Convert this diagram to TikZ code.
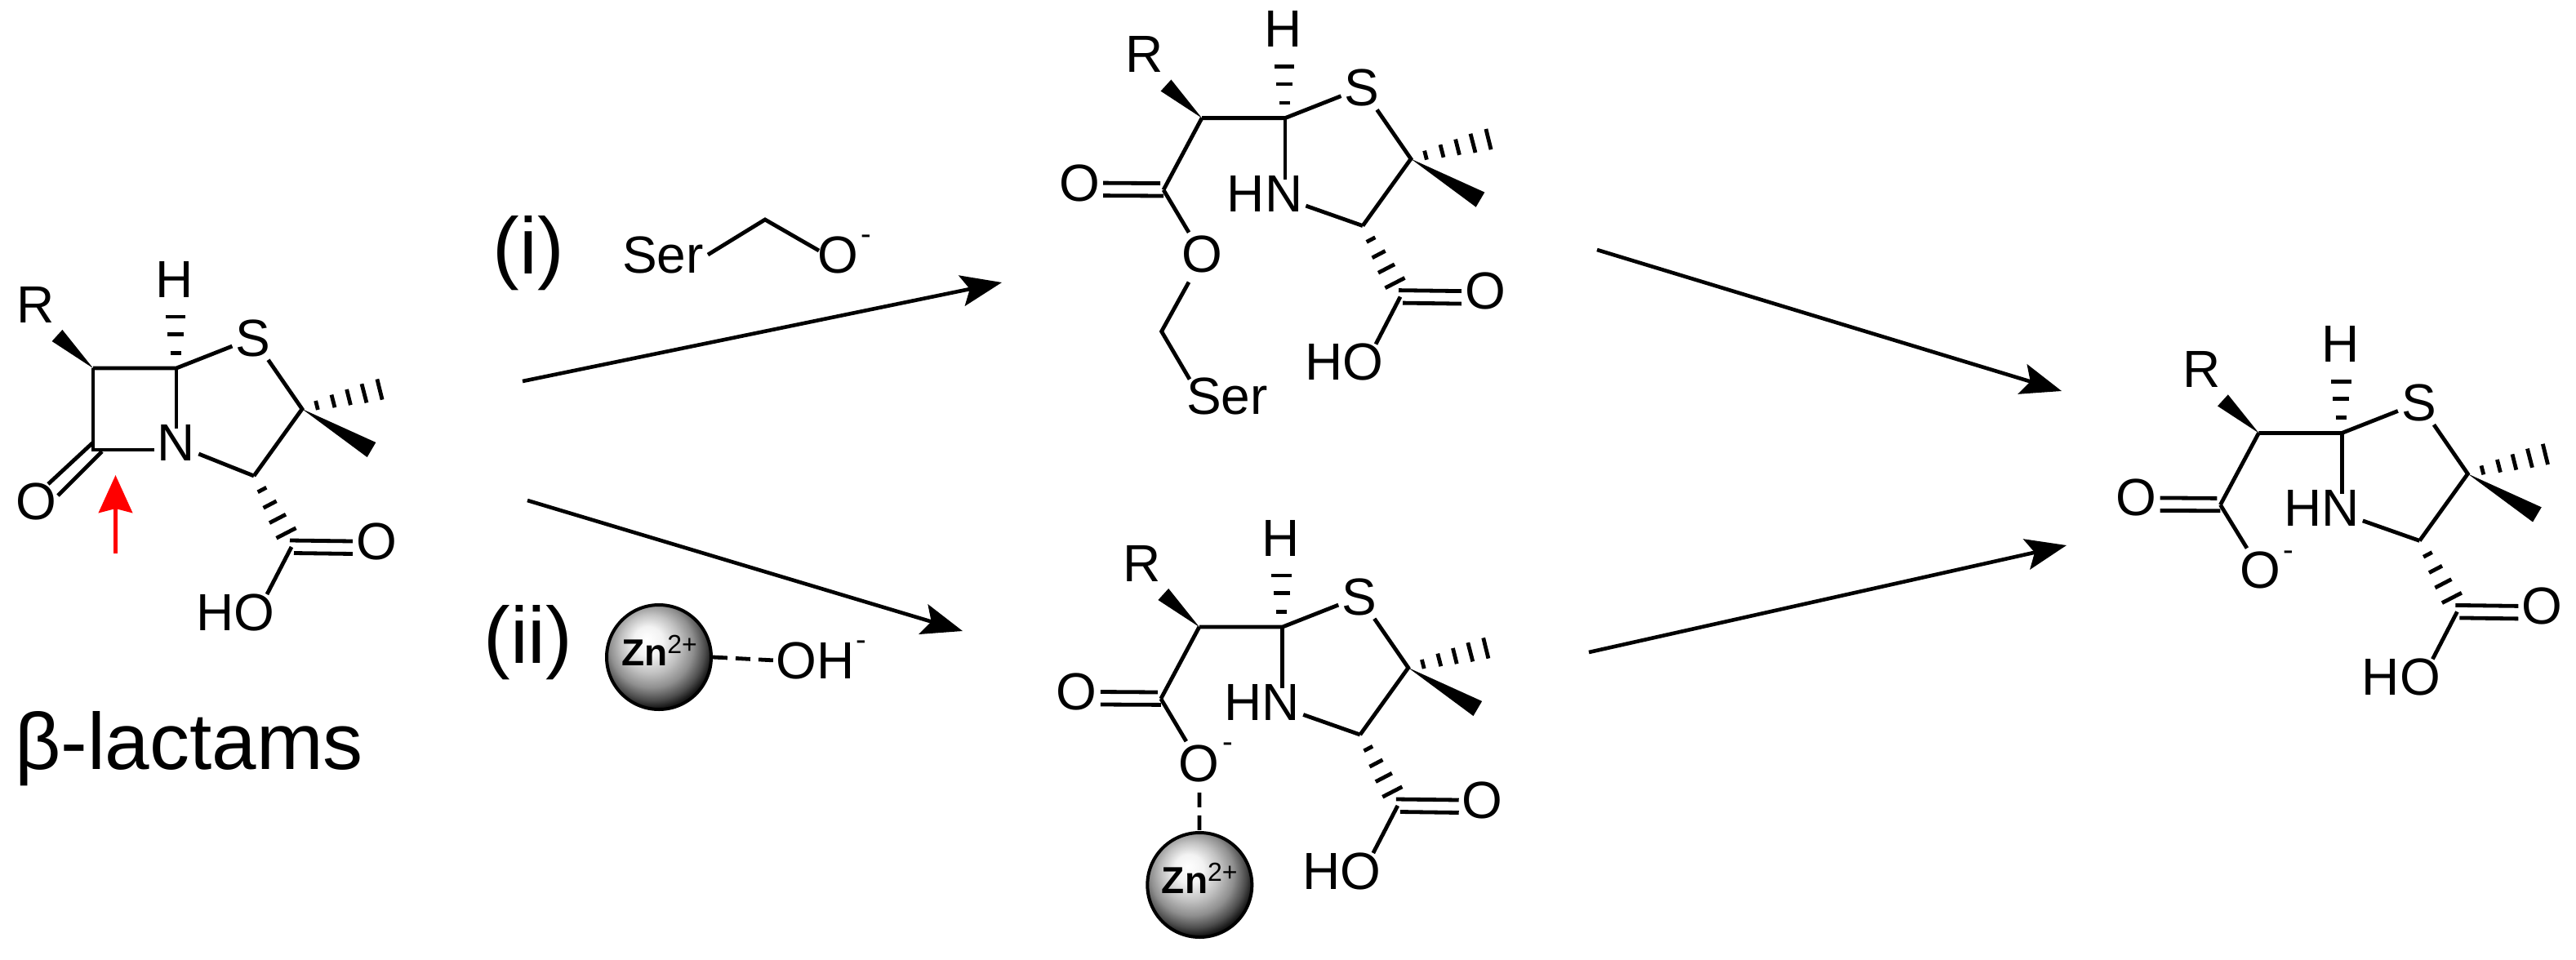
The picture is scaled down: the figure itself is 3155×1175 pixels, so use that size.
\documentclass[tikz,border=0pt]{standalone}
\usepackage{fontspec}
\setmainfont{Liberation Sans}
\usetikzlibrary{arrows.meta,calc}
\pgfdeclareradialshading{znball}{\pgfpoint{-6bp}{9bp}}{%
  color(0bp)=(white); color(7bp)=(white!95!black); color(14bp)=(white!76!black);
  color(20bp)=(white!56!black); color(25bp)=(white!30!black); color(28bp)=(white!10!black);
  color(31bp)=(black); color(50bp)=(black)}
\tikzset{
  atom/.style={font=\fontsize{64}{72}\selectfont, inner sep=4pt},
  charge/.style={font=\fontsize{38}{40}\selectfont, inner sep=0pt},
  roman/.style={font=\fontsize{98}{110}\selectfont, inner sep=0pt},
  title/.style={font=\fontsize{98}{110}\selectfont, inner sep=0pt},
  bond/.style={line width=4.8pt, line cap=butt, line join=miter},
  hashbar/.style={line width=4.8pt},
  wedge/.style={fill=black, draw=none},
  rxn/.style={line width=4.6pt, -{Stealth[length=50pt,width=38pt,inset=10pt]}},
  redarrow/.style={line width=5.5pt, red, -{Stealth[length=46pt,width=41pt,inset=5pt]}},
  zn/.style={circle, draw=black, line width=4pt, minimum size=128pt, inner sep=0pt, shading=znball},
  znlabel/.style={font=\fontsize{46}{50}\selectfont\bfseries, inner sep=0pt},
  coord/.style={line width=4.8pt, dash pattern=on 18pt off 10pt},
}
\newcommand{\zntext}{Zn\raisebox{15pt}{\fontsize{32}{34}\selectfont\mdseries 2+}}
% the part shared by all four molecules
\newcommand{\thiacore}{%
  \coordinate (ch) at (0,0);
  \coordinate (cr) at (-102,0);
  \coordinate (c5) at (154,50);
  \coordinate (c4) at (95,132);
  \coordinate (cc) at (141,219);
  \coordinate (cd1) at (139,211);
  \coordinate (cd2) at (144,226.5);
  \coordinate (hob) at (111,277);
  \coordinate (rw) at (-146,-40);
  \coordinate (mw) at (239,100);
  \node[atom] (R) at (-172,-78) {R};
  \node[atom] (H) at (-2,-109) {H};
  \node[atom] (S) at (94,-37) {S};
  \node[atom] (O2) at (245,212) {O};
  \node[atom] (HO) at (72.5,299) {HO};
  \draw[bond] (cr) -- (ch) -- (S);
  \draw[bond] (S) -- (c5) -- (c4);
  \draw[bond] (cd1) -- (O2.west);
  \draw[bond] (cd2) -- ([yshift=-15.5pt]O2.west);
  \draw[bond] (cc) -- (hob);
  \fill[wedge] (cr) -- ($(rw)!9.5pt!90:(cr)$) -- ($(rw)!9.5pt!-90:(cr)$) -- cycle;
  \fill[wedge] (c5) -- ($(mw)!10.5pt!90:(c5)$) -- ($(mw)!10.5pt!-90:(c5)$) -- cycle;
  \draw[hashbar] (-13.4,-63) -- (11.4,-63) (-11,-41.6) -- (9,-41.6) (-7.5,-18.6) -- (5.5,-18.6);
  \draw[hashbar] (170.6,40) -- (173.4,51) (190,32.6) -- (194,48.2) (208.6,26) -- (213.4,45.2)
                 (227,19.2) -- (233,42.4) (245.9,13.4) -- (252.1,38.6);
  \draw[hashbar] (99.7,151.8) -- (110.3,146.2) (106.6,171.2) -- (122.6,162.8)
                 (114,189.6) -- (134,179.2) (122.5,208.2) -- (146.5,195.8);
}
% open form: secondary amine and a carboxyl-derived carbon
\newcommand{\openform}{%
  \coordinate (nb) at (0,75);
  \coordinate (cx) at (-149,88);
  \coordinate (cx1) at (-153,80);
  \coordinate (cx2) at (-149,95.4);
  \node[atom] (HN) at (-25,92.5) {HN};
  \node[atom] (O1) at (-252,79.5) {O};
  \draw[bond] (ch) -- (nb);
  \draw[bond] ([yshift=-15pt]HN.east) -- (c4);
  \draw[bond] (cr) -- (cx);
  \draw[bond] (O1.east) -- (cx1);
  \draw[bond] ([yshift=-15.5pt]O1.east) -- (cx2);
}
\begin{document}
\begin{tikzpicture}[x=1pt,y=-1pt]
\useasboundingbox (0,0) rectangle (3155,1175);

% beta-lactam
\begin{scope}[shift={(216,451)},name prefix=a-]
  \thiacore
  \coordinate (nb) at (0,74);
  \coordinate (cb) at (-102,100);
  \coordinate (cb1) at (-102,91);
  \coordinate (cb2) at (-91,102);
  \coordinate (ob1) at (-157,142);
  \coordinate (ob2) at (-145,156);
  \node[atom] (N) at (0,91) {N};
  \node[atom] (O1) at (-172,163) {O};
  \draw[bond] (ch) -- (nb);
  \draw[bond] (cr) -- (cb) -- ([yshift=-9pt]N.west);
  \draw[bond] ([yshift=-14pt]N.east) -- (c4);
  \draw[bond] (cb1) -- (ob1);
  \draw[bond] (cb2) -- (ob2);
  \coordinate (rb) at (-74.5,227);
  \coordinate (rt) at (-74.5,131);
  \draw[redarrow] (rb) -- (rt);
\end{scope}
\node[title] (lactam) at (231.5,917) {β-lactams};

% serine ester
\begin{scope}[shift={(1574,144.6)},name prefix=b-]
  \thiacore
  \openform
  \node[atom] (Ox) at (-102,167) {O};
  \node[atom] (Ser) at (-71,341) {Ser};
  \coordinate (ox1) at (-118,201);
  \coordinate (ch2) at (-151.4,261.4);
  \coordinate (ser1) at (-117,320);
  \draw[bond] (cx) -- (Ox);
  \draw[bond] (ox1) -- (ch2) -- (ser1);
\end{scope}

% zinc complex
\begin{scope}[shift={(1570.8,768)},name prefix=c-]
  \thiacore
  \openform
  \node[atom] (Ox) at (-102,167) {O};
  \node[charge] (Oxm) at (-67,148) {-};
  \node[zn] (ball) at (-101.5,316) {};
  \node[znlabel] (balltext) at (-101.5,308) {\zntext};
  \draw[bond] (cx) -- (Ox);
  \draw[coord,shorten <=9pt] (Ox) -- (ball);
\end{scope}

% product
\begin{scope}[shift={(2868.4,530.4)},name prefix=d-]
  \thiacore
  \openform
  \node[atom] (Ox) at (-100,168) {O};
  \node[charge] (Oxm) at (-66,150) {-};
  \draw[bond] (cx) -- (Ox);
\end{scope}

% reagents
\node[roman] (ri) at (647.5,310) {(i)};
\node[atom] (ser) at (812,312.5) {Ser};
\coordinate (ser1) at (867,312);
\coordinate (sc) at (937,269);
\coordinate (ser2) at (1003,307);
\node[atom] (sero) at (1026,312.5) {O};
\node[charge] (serm) at (1061,294) {-};
\draw[bond] (ser1) -- (sc) -- (ser2);

\node[roman] (rii) at (647,787.5) {(ii)};
\node[zn] (zn) at (807,805) {};
\node[znlabel] (zntext) at (807.5,797) {\zntext};
\node[atom,anchor=west,inner sep=0pt] (oh) at (950,809) {OH};
\node[charge] (ohm) at (1055,791) {-};
\draw[coord] (zn.east) -- (oh.west);

% reaction arrows
\coordinate (a1s) at (640,467);
\coordinate (a1e) at (1227,346);
\coordinate (a2s) at (646,613);
\coordinate (a2e) at (1179,773);
\coordinate (a3s) at (1956,306);
\coordinate (a3e) at (2525,479);
\coordinate (a4s) at (1946,799);
\coordinate (a4e) at (2531,668);
\draw[rxn] (a1s) -- (a1e);
\draw[rxn] (a2s) -- (a2e);
\draw[rxn] (a3s) -- (a3e);
\draw[rxn] (a4s) -- (a4e);
\end{tikzpicture}
\end{document}
